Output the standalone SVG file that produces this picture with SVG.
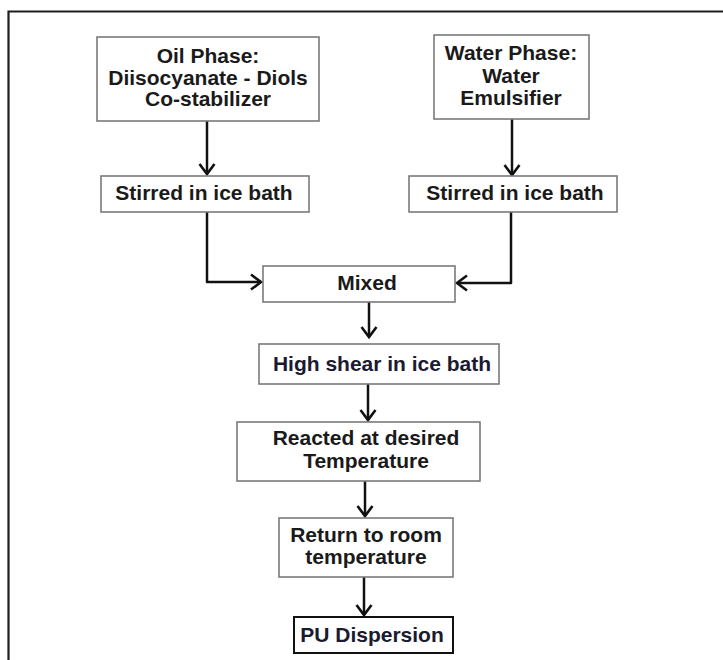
<svg xmlns="http://www.w3.org/2000/svg" width="723" height="660" viewBox="0 0 723 660">
<style>
.box{fill:#fff;stroke:#7a7a7a;stroke-width:1.6}
.dark{fill:#fff;stroke:#111;stroke-width:2}
.t{font-family:"Liberation Sans",Arial,sans-serif;font-weight:bold;font-size:21px;fill:#1a1a1a;text-anchor:middle}
.n{fill:#1a1a30}
.c{fill:none;stroke:#111;stroke-width:2.5;stroke-linejoin:round}
</style>
<defs>
<marker id="ah" markerUnits="userSpaceOnUse" markerWidth="16" markerHeight="18" viewBox="-11 -9 13 18" refX="0" refY="0" orient="auto">
<path d="M-10,-7.5 L0,0 L-10,7.5" fill="none" stroke="#111" stroke-width="2.6" stroke-linejoin="miter"/>
</marker>
</defs>
<rect width="723" height="660" fill="#fff"/>
<path d="M8.5,660 V11.5 H723" fill="none" stroke="#1e1e1e" stroke-width="2.2"/>
<g id="connectors">
<path class="c" d="M207,121 V174" marker-end="url(#ah)"/>
<path class="c" d="M512,119 V175" marker-end="url(#ah)"/>
<path class="c" d="M207,212 V282 H261" marker-end="url(#ah)"/>
<path class="c" d="M511,212 V283 H457" marker-end="url(#ah)"/>
<path class="c" d="M369,302 V337" marker-end="url(#ah)"/>
<path class="c" d="M368,384 V420" marker-end="url(#ah)"/>
<path class="c" d="M365,481 V516" marker-end="url(#ah)"/>
<path class="c" d="M364,577 V615" marker-end="url(#ah)"/>
</g>
<g id="oil">
<rect class="box" x="97" y="37" width="222" height="84"/>
<text class="t" x="208" y="63">Oil Phase:</text>
<text class="t" x="208" y="85">Diisocyanate - Diols</text>
<text class="t" x="208" y="106">Co-stabilizer</text>
</g>
<g id="water">
<rect class="box" x="434" y="35" width="155" height="84"/>
<text class="t" x="511" y="60">Water Phase:</text>
<text class="t" x="511" y="83">Water</text>
<text class="t" x="511" y="105">Emulsifier</text>
</g>
<g id="stir1">
<rect class="box" x="101" y="176" width="208" height="36"/>
<text class="t" x="204" y="200">Stirred in ice bath</text>
</g>
<g id="stir2">
<rect class="box" x="409" y="176" width="208" height="36"/>
<text class="t" x="515" y="200">Stirred in ice bath</text>
</g>
<g id="mixed">
<rect class="box" x="263" y="266" width="192" height="36"/>
<text class="t" x="367" y="290">Mixed</text>
</g>
<g id="shear">
<rect class="box" x="259" y="344" width="240" height="40"/>
<text class="t n" x="382" y="371">High shear in ice bath</text>
</g>
<g id="reacted">
<rect class="box" x="237" y="422" width="243" height="59"/>
<text class="t" x="366" y="445">Reacted at desired</text>
<text class="t" x="366" y="468">Temperature</text>
</g>
<g id="return">
<rect class="box" x="279" y="518" width="174" height="59"/>
<text class="t" x="366" y="542">Return to room</text>
<text class="t" x="366" y="564">temperature</text>
</g>
<g id="pu">
<rect class="dark" x="294" y="617" width="159" height="36"/>
<text class="t n" x="372" y="642">PU Dispersion</text>
</g>
</svg>
